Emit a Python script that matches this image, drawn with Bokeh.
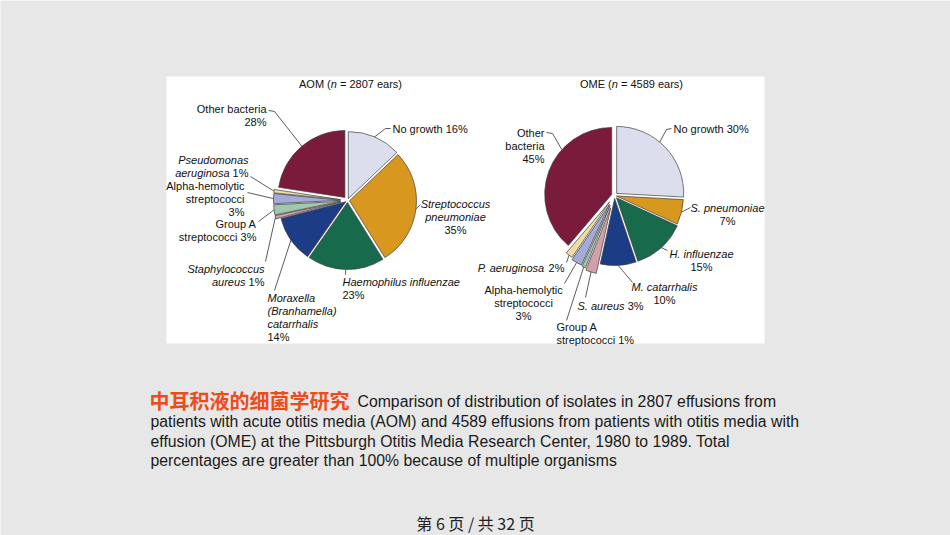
import math
from bokeh.plotting import figure
from bokeh.models import ColumnDataSource, BoxAnnotation
from bokeh.core.properties import value, field
from bokeh.embed import file_html
from bokeh.resources import INLINE

W, H = 950, 535

# ---------------- data ----------------
slice_names = ["No growth", "Streptococcus pneumoniae", "Haemophilus influenzae",
               "Moraxella catarrhalis", "Staphylococcus aureus", "Group A streptococci",
               "Alpha-hemolytic streptococci", "Pseudomonas aeruginosa", "Other bacteria"]
aom_pct = [16, 35, 23, 14, 1, 3, 3, 1, 28]
ome_pct = [30, 7, 15, 10, 3, 1, 3, 2, 45]
aom_n = 2807
ome_n = 4589
slice_colors = ["#dcdeee", "#d8981f", "#176a4b", "#1c3c86", "#d2a0a9",
                "#9fc8ae", "#a4abd9", "#f1dca3", "#7a1b3b"]

caption_title = "中耳积液的细菌学研究"
caption_lines = [
    f"Comparison of distribution of isolates in {aom_n} effusions from",
    f"patients with acute otitis media (AOM) and {ome_n} effusions from patients with otitis media with",
    "effusion (OME) at the Pittsburgh Otitis Media Research Center, 1980 to 1989. Total",
    "percentages are greater than 100% because of multiple organisms",
]
footer = "第 6 页 / 共 32 页"

# ---------------- style / layout ----------------
BG = "#e7e7e7"
FONT = "Liberation Sans"
LBL = 11  # px

_low = dict(zip("abcdefghijklmnopqrstuvwxyz",
                [556, 556, 500, 556, 556, 278, 556, 556, 222, 222, 500, 222, 833,
                 556, 556, 556, 556, 333, 500, 278, 556, 500, 722, 500, 500, 500]))
_up = dict(zip("ABCDEFGHIJKLMNOPQRSTUVWXYZ",
               [667, 667, 722, 722, 667, 611, 778, 722, 278, 500, 667, 556, 833,
                722, 778, 667, 778, 722, 667, 611, 722, 667, 944, 667, 667, 611]))
_oth = {' ': 278, '%': 889, '(': 333, ')': 333, '=': 584, '.': 278, '-': 333, '/': 278}


def tw(s, size):
    t = 0
    for ch in s:
        if ch in _low:
            t += _low[ch]
        elif ch in _up:
            t += _up[ch]
        elif ch in _oth:
            t += _oth[ch]
        else:
            t += 556
    return t * size / 1000.0


texts = dict(x=[], y=[], text=[], style=[])


def put_line(ax, ay, segs, align, size=LBL):
    total = sum(tw(s, size) for s, _ in segs)
    if align == "right":
        x = ax - total
    elif align == "center":
        x = ax - total / 2
    else:
        x = ax
    for s, it in segs:
        lead = len(s) - len(s.lstrip(" "))
        xs = x + tw(" " * lead, size)
        body = s.strip(" ")
        texts["x"].append(xs)
        texts["y"].append(H - ay)
        texts["text"].append(body)
        texts["style"].append("italic" if it else "normal")
        x += tw(s, size)


def slice_angles(pcts):
    tot = float(sum(pcts))
    out, c = [], 0.0
    for v in pcts:
        a0 = c / tot * 360.0
        c += v
        out.append((a0, c / tot * 360.0))
    return out


aom_geom = dict(cx=347, cy=200, r=67, explode=[2, 2, 2, 2, 7, 7, 7, 7, 4])
ome_geom = dict(cx=614, cy=195, r=67, explode=[3, 2, 3, 3, 13, 11, 10, 8, 3])

I, R = True, False
# label layout per slice: anchor, alignment, lines (segments), leader start points, leader target angle
aom_layout = [
    dict(x=392, y=128, al="left", lines=[[("No growth {p}%", R)]], lead=[(390, 128), (385, 128)], tgt=23),
    dict(x=455, y=203, al="center", lines=[[("Streptococcus", I)], [("pneumoniae", I)], [("{p}%", R)]],
         lead=[(420, 204)], tgt=97),
    dict(x=342, y=281, al="left", lines=[[("Haemophilus influenzae", I)], [("{p}%", R)]],
         lead=[(345, 274)], tgt=None),
    dict(x=267, y=297, al="left", lines=[[("Moraxella", I)], [("(Branhamella)", I)], [("catarrhalis", I)], [("{p}%", R)]],
         lead=[(274, 290)], tgt=235),
    dict(x=264, y=268, al="right", lines=[[("Staphylococcus", I)], [("aureus", I), (" {p}%", R)]],
         lead=[(265, 261)], tgt=None),
    dict(x=256, y=223, al="right", lines=[[("Group A", R)], [("streptococci {p}%", R)]],
         lead=[(258, 221)], tgt=None),
    dict(x=244, y=185, al="right", lines=[[("Alpha-hemolytic", R)], [("streptococci", R)], [("{p}%", R)]],
         lead=[(247, 192)], tgt=None),
    dict(x=248, y=159, al="right", lines=[[("Pseudomonas", I)], [("aeruginosa", I), (" {p}%", R)]],
         lead=[(250, 176)], tgt=None),
    dict(x=266, y=108, al="right", lines=[[("Other bacteria", R)], [("{p}%", R)]],
         lead=[(268, 110), (274, 111)], tgt=320),
]
ome_layout = [
    dict(x=673, y=128, al="left", lines=[[("No growth {p}%", R)]], lead=[(671, 128), (666, 129)], tgt=40),
    dict(x=727, y=207, al="center", lines=[[("S. pneumoniae", I)], [("{p}%", R)]],
         lead=[(690, 207)], tgt=None),
    dict(x=701, y=253, al="center", lines=[[("H. influenzae", I)], [("{p}%", R)]],
         lead=[(667, 250)], tgt=None),
    dict(x=664, y=286, al="center", lines=[[("M. catarrhalis", I)], [("{p}%", R)]],
         lead=[(632, 282)], tgt=177),
    dict(x=577, y=305, al="left", lines=[[("S. aureus", I), (" {p}%", R)]],
         lead=[(585, 297)], tgt=None),
    dict(x=556, y=326, al="left", lines=[[("Group A", R)], [("streptococci {p}%", R)]],
         lead=[(566, 320)], tgt=None),
    dict(x=523, y=289, al="center", lines=[[("Alpha-hemolytic", R)], [("streptococci", R)], [("{p}%", R)]],
         lead=[(564, 283)], tgt=None),
    dict(x=564, y=267, al="right", lines=[[("P. aeruginosa", I), (" {p}%", R)]],
         lead=[(566, 262)], tgt=None),
    dict(x=544, y=132, al="right", lines=[[("Other", R)], [("bacteria", R)], [("{p}%", R)]],
         lead=[(546, 132), (552, 133)], tgt=312),
]

p = figure(width=W, height=H, x_range=(0, W), y_range=(0, H),
           x_axis_type=None, y_axis_type=None, toolbar_location=None,
           output_backend="svg", min_border=0,
           background_fill_color=BG, border_fill_color=BG, outline_line_color=None)
p.grid.visible = False

p.add_layout(BoxAnnotation(left=166, right=764, bottom=H - 343, top=H - 76,
                           fill_color="white", fill_alpha=1.0, line_color=None, level="underlay"))

lead_xs, lead_ys = [], []


def draw_pie(pcts, geom, layout):
    ang = slice_angles(pcts)
    cx, cy, r = geom["cx"], geom["cy"], geom["r"]
    src = dict(x=[], y=[], sa=[], ea=[], color=[])
    for i, (a0, a1) in enumerate(ang):
        m = math.radians((a0 + a1) / 2)
        e = geom["explode"][i]
        ox, oy = cx + e * math.sin(m), cy - e * math.cos(m)
        src["x"].append(ox)
        src["y"].append(H - oy)
        src["sa"].append(math.radians(90 - a0))
        src["ea"].append(math.radians(90 - a1))
        src["color"].append(slice_colors[i])
        lay = layout[i]
        for k, line in enumerate(lay["lines"]):
            segs = [(s.format(p=pcts[i]), it) for s, it in line]
            put_line(lay["x"], lay["y"] + k * 13, segs, lay["al"])
        t = math.radians(lay["tgt"] if lay["tgt"] is not None else (a0 + a1) / 2)
        tx, ty = ox + r * math.sin(t), oy - r * math.cos(t)
        pts = lay["lead"] + [(tx, ty)]
        lead_xs.append([q[0] for q in pts])
        lead_ys.append([H - q[1] for q in pts])
    p.wedge(x="x", y="y", radius=r, start_angle="sa", end_angle="ea",
            direction="clock", fill_color="color",
            line_color="#3f3f3f", line_width=0.7, source=ColumnDataSource(src))


draw_pie(aom_pct, aom_geom, aom_layout)
draw_pie(ome_pct, ome_geom, ome_layout)

p.multi_line(xs=lead_xs, ys=lead_ys, line_color="#4a4a4a", line_width=0.9)

# titles
put_line(350, 83, [("AOM (", R), ("n", I), (f" = {aom_n} ears)", R)], "center")
put_line(631, 83, [("OME (", R), ("n", I), (f" = {ome_n} ears)", R)], "center")

p.text(x="x", y="y", text="text", source=ColumnDataSource(texts),
       text_font=value(FONT), text_font_size=value(f"{LBL}px"),
       text_font_style=field("style"), text_align="left", text_baseline="middle",
       text_color="#111111")

# caption
p.text(x=[149], y=[H - 400], text=[caption_title], text_font=value("Noto Sans CJK SC"),
       text_font_size=value("20px"), text_font_style="bold", text_color="#ee4b1a",
       text_align="left", text_baseline="middle")
cap_x = [357, 150, 150, 150]
cap_y = [401, 421, 440.5, 460]
p.text(x=cap_x, y=[H - v for v in cap_y], text=caption_lines, text_font=value(FONT),
       text_font_size=value("15.8px"), text_color="#1a1a1a",
       text_align="left", text_baseline="middle")

p.text(x=[475], y=[H - 522], text=[footer], text_font=value("Noto Sans CJK SC"),
       text_font_size=value("16px"), text_color="#222222",
       text_align="center", text_baseline="middle")

open("out.html", "w").write(file_html(p, INLINE))
